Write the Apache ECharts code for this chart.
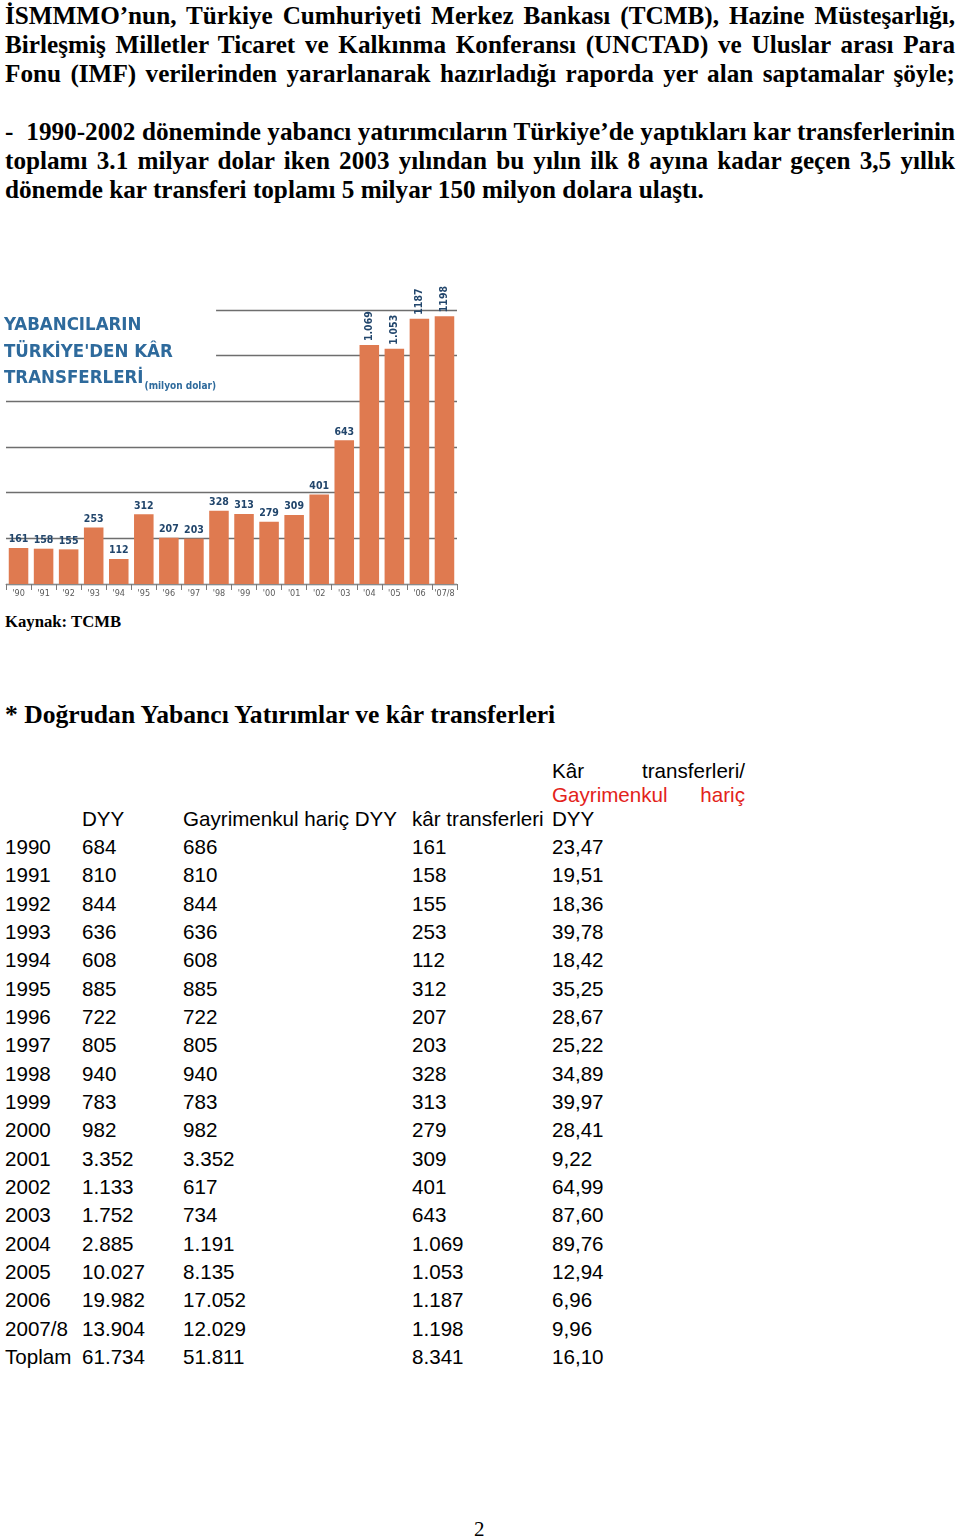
<!DOCTYPE html>
<html>
<head>
<meta charset="utf-8">
<script src="https://cdn.jsdelivr.net/npm/echarts@6/dist/echarts.min.js"></script>
<style>
  html, body { margin: 0; padding: 0; background: #fff; }
  body { width: 960px; height: 1540px; position: relative; overflow: hidden; }
  .serif { font-family: 'Liberation Serif', 'Times New Roman', serif; font-weight: bold; color: #000; }
  .ln { position: absolute; left: 5px; width: 950px; height: 29px; line-height: 29px; font-size: 25.2px; white-space: nowrap; }
  .just { text-align: justify; text-align-last: justify; white-space: normal; }
  .tc { position: absolute; font-family: 'Liberation Sans', Arial, sans-serif; font-size: 20.6px; color: #000; white-space: nowrap; line-height: 24px; }
  #chart { position: absolute; left: 0; top: 280px; width: 470px; height: 330px; }
</style>
</head>
<body>
<div id="text"></div>
<div id="chart"></div>
<div id="table"></div>
<script>
// ---- chart data ----
var xLabels = ["'90","'91","'92","'93","'94","'95","'96","'97","'98","'99","'00","'01","'02","'03","'04","'05","'06","'07/8"];
var profitTransfers = [161,158,155,253,112,312,207,203,328,313,279,309,401,643,1069,1053,1187,1198];
var barLabels = ['161','158','155','253','112','312','207','203','328','313','279','309','401','643','1.069','1.053','1187','1198'];

// ---- table data ----
var tYears = ['1990','1991','1992','1993','1994','1995','1996','1997','1998','1999','2000','2001','2002','2003','2004','2005','2006','2007/8','Toplam'];
var tDyy = ['684','810','844','636','608','885','722','805','940','783','982','3.352','1.133','1.752','2.885','10.027','19.982','13.904','61.734'];
var tDyyExRe = ['686','810','844','636','608','885','722','805','940','783','982','3.352','617','734','1.191','8.135','17.052','12.029','51.811'];
var tProfit = ['161','158','155','253','112','312','207','203','328','313','279','309','401','643','1.069','1.053','1.187','1.198','8.341'];
var tRatio = ['23,47','19,51','18,36','39,78','18,42','35,25','28,67','25,22','34,89','39,97','28,41','9,22','64,99','87,60','89,76','12,94','6,96','9,96','16,10'];

// ---- text lines ----
var paraLines = [
  ['İSMMMO’nun, Türkiye Cumhuriyeti Merkez Bankası (TCMB), Hazine Müsteşarlığı,', true],
  ['Birleşmiş Milletler Ticaret ve Kalkınma Konferansı (UNCTAD) ve Uluslar arası Para', true],
  ['Fonu (IMF) verilerinden yararlanarak hazırladığı raporda yer alan saptamalar şöyle;', true],
  ['', false],
  ['-\u00a0 1990-2002 döneminde yabancı yatırımcıların Türkiye’de yaptıkları kar transferlerinin', true],
  ['toplamı 3.1 milyar dolar iken 2003 yılından bu yılın ilk 8 ayına kadar geçen 3,5 yıllık', true],
  ['dönemde kar transferi toplamı 5 milyar 150 milyon dolara ulaştı.', false]
];

var textDiv = document.getElementById('text');
paraLines.forEach(function (l, i) {
  var d = document.createElement('div');
  d.className = 'serif ln' + (l[1] ? ' just' : '');
  d.style.top = (0.5 + i * 29) + 'px';
  d.textContent = l[0];
  textDiv.appendChild(d);
});
function addText(parent, txt, cls, style) {
  var d = document.createElement('div');
  d.className = cls;
  d.textContent = txt;
  for (var k in style) d.style[k] = style[k];
  parent.appendChild(d);
  return d;
}
addText(textDiv, 'Kaynak: TCMB', 'serif', {position:'absolute', left:'5px', top:'612px', fontSize:'16.7px', lineHeight:'20px'});
addText(textDiv, '* Doğrudan Yabancı Yatırımlar ve kâr transferleri', 'serif', {position:'absolute', left:'5px', top:'700px', fontSize:'25.6px', lineHeight:'29px', whiteSpace:'nowrap'});
addText(textDiv, '2', '', {position:'absolute', left:'474px', top:'1517px', fontSize:'21px', lineHeight:'24px', fontFamily:"'Liberation Serif', serif"});

// ---- table ----
var tableDiv = document.getElementById('table');
var colX = [5, 82, 183, 412, 552];
addText(tableDiv, 'Kâr transferleri/', 'tc', {left:'552px', top:'759px', width:'193px', textAlign:'justify', textAlignLast:'justify', whiteSpace:'normal'});
addText(tableDiv, 'Gayrimenkul hariç', 'tc', {left:'552px', top:'783px', width:'193px', textAlign:'justify', textAlignLast:'justify', whiteSpace:'normal', color:'#e3231b'});
var headers = ['', 'DYY', 'Gayrimenkul hariç DYY', 'kâr transferleri', 'DYY'];
headers.forEach(function (h, c) {
  if (h) addText(tableDiv, h, 'tc', {left: colX[c] + 'px', top: '807px'});
});
var cols = [tYears, tDyy, tDyyExRe, tProfit, tRatio];
for (var r = 0; r < tYears.length; r++) {
  for (var c = 0; c < cols.length; c++) {
    addText(tableDiv, cols[c][r], 'tc', {left: colX[c] + 'px', top: (835 + r * 28.33) + 'px'});
  }
}

// ---- chart ----
var chart = echarts.init(document.getElementById('chart'), null, {renderer: 'canvas'});
var barData = profitTransfers.map(function (v) {
  var item = {value: v};
  if (v >= 1000) {
    item.label = {rotate: 90, align: 'left', verticalAlign: 'middle', distance: 4};
  }
  return item;
});
chart.setOption({
  animation: false,
  backgroundColor: '#ffffff',
  title: {
    text: 'YABANCILARIN\nTÜRKİYE\'DEN KÂR\nTRANSFERLERİ{s|(milyon dolar)}',
    left: 0,
    top: 27,
    padding: [5, 0, 4, 4],
    backgroundColor: '#ffffff',
    textStyle: {
      color: '#2e6a9c',
      fontFamily: 'DejaVu Sans Condensed',
      fontWeight: 'bold',
      fontSize: 18.5,
      lineHeight: 26.5,
      rich: {
        s: {fontSize: 10, fontFamily: 'DejaVu Sans Condensed', fontWeight: 'bold', color: '#2e6a9c', verticalAlign: 'bottom', padding: [0,0,0,1]}
      }
    }
  },
  grid: {left: 6, top: 30, width: 451, height: 274, containLabel: false},
  xAxis: {
    type: 'category',
    data: xLabels,
    axisLine: {lineStyle: {color: '#8a8a8a', width: 1}},
    axisTick: {show: true, alignWithLabel: false, length: 6, lineStyle: {color: '#7a7a7a'}},
    axisLabel: {interval: 0, color: '#5a5a5a', fontSize: 9, margin: 5, fontFamily: 'DejaVu Sans Condensed'}
  },
  yAxis: [{
    type: 'value',
    min: 0,
    max: 1200,
    interval: 200,
    axisLine: {show: false},
    axisTick: {show: false},
    axisLabel: {show: false},
    splitLine: {show: true, lineStyle: {color: '#6e6e6e', width: 1.3}}
  }, {
    type: 'value',
    min: 0,
    max: 1226,
    show: false,
    splitLine: {show: false}
  }],
  series: [{
    type: 'bar',
    yAxisIndex: 1,
    data: barData,
    barCategoryGap: '22%',
    itemStyle: {color: '#df7a50'},
    label: {
      show: true,
      position: 'top',
      distance: 3,
      color: '#22466c',
      fontSize: 10.5,
      fontWeight: 'bold',
      fontFamily: 'DejaVu Sans Condensed',
      formatter: function (p) { return barLabels[p.dataIndex]; }
    }
  }]
});
</script>
</body>
</html>
